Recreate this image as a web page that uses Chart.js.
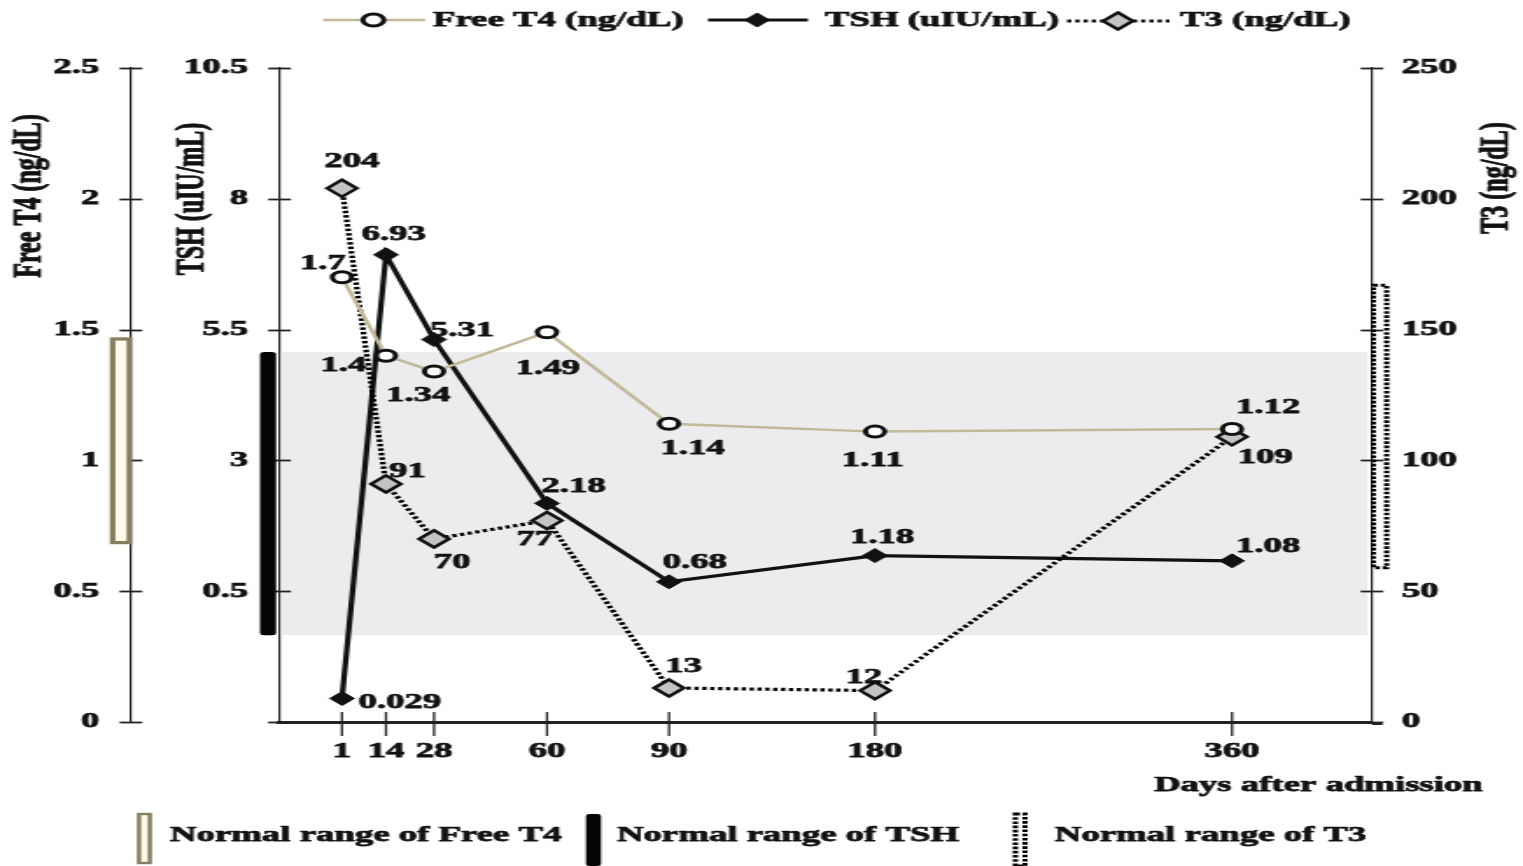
<!DOCTYPE html>
<html><head><meta charset="utf-8">
<script src="https://cdn.jsdelivr.net/npm/chart.js@4.4.1/dist/chart.umd.min.js"></script>
<style>
html,body{margin:0;padding:0;background:#fff;overflow:hidden;}
#wrap{position:absolute;left:0;top:0;width:870px;height:866px;transform:scaleX(1.7506);transform-origin:0 0;}
canvas{display:block;}
</style></head><body>
<div id="wrap"><canvas id="c" width="870" height="866"></canvas></div>
<script>
// ---------- data ----------
const days = [1, 14, 28, 60, 90, 180, 360];
const freeT4 = [1.7, 1.4, 1.34, 1.49, 1.14, 1.11, 1.12];
const tshValues = [0.029, 6.93, 5.31, 2.18, 0.68, 1.18, 1.08];
// where each TSH point sits on the TSH axis in the source (first point is drawn near the axis floor)
const tshPlotted = [-1.55, 6.93, 5.31, 2.18, 0.68, 1.18, 1.08];
const t3 = [204, 91, 70, 77, 13, 12, 109];
const dayTicks = [1, 14, 28, 60, 90, 180, 360];
const ft4Ticks = [0, 0.5, 1, 1.5, 2, 2.5];
const tshTicks = [-2, 0.5, 3, 5.5, 8, 10.5];
const t3Ticks = [0, 50, 100, 150, 200, 250];
const ft4Normal = [0.68, 1.47];
const tshNormal = [-0.34, 5.07];
const t3Normal = [59, 167];

// ---------- layout / style ----------
const FONT = "'Liberation Serif','Times New Roman',serif";
const INK = '#111111';
const TAN = '#c2b99a';
const STROKE_W = 0.75;
const DAY_FRACS = [0.0571, 0.0974, 0.1414, 0.2448, 0.3565, 0.5451, 0.8719];
const AXIS_W = { ft4: 74.8, tsh: 84.9, t3: 86.3 };
const labelOffsets = {
  ft4: [[-10.9,-14],[-24.3,10],[-9.1,24],[0.3,36],[13.4,25],[-1.4,29],[20.6,-21]],
  tsh: [[33.1,4],[4.3,-20],[16,-9],[15.2,-17],[14.6,-19],[4,-18],[20.6,-14]],
  t3:  [[5.7,-27],[12.3,-12],[10.3,24],[-6.9,19],[8.3,-21],[-6.3,-13],[19,21]]
};

// piecewise day axis (the source spaces the days unevenly)
class DayScale extends Chart.LinearScale {
  static id = 'dayScale';
  static defaults = {};
  buildTicks() {
    this.start = this.min; this.end = this.max;
    return dayTicks.map(v => ({ value: v }));
  }
  _frac(v) {
    const d = dayTicks, f = DAY_FRACS;
    let i = 0;
    while (i < d.length - 2 && v > d[i + 1]) i++;
    return f[i] + (v - d[i]) * (f[i + 1] - f[i]) / (d[i + 1] - d[i]);
  }
  getPixelForValue(v) { return this.left + this._frac(v) * this.width; }
  getValueForPixel(p) {
    const fr = (p - this.left) / this.width, d = dayTicks, f = DAY_FRACS;
    let i = 0;
    while (i < f.length - 2 && fr > f[i + 1]) i++;
    return d[i] + (fr - f[i]) * (d[i + 1] - d[i]) / (f[i + 1] - f[i]);
  }
}
Chart.register(DayScale);

function txt(ctx, s, x, y, size, align, rot) {
  ctx.save();
  ctx.translate(x, y);
  if (rot) ctx.rotate(rot);
  ctx.font = 'bold ' + size + 'px ' + FONT;
  ctx.fillStyle = INK;
  ctx.strokeStyle = INK;
  ctx.lineWidth = STROKE_W;
  ctx.lineJoin = 'round';
  ctx.textAlign = align || 'center';
  ctx.textBaseline = 'middle';
  ctx.strokeText(s, 0, 0);
  ctx.fillText(s, 0, 0);
  ctx.restore();
}
function diamond(ctx, x, y, r, fill, stroke, lw) {
  ctx.beginPath();
  ctx.moveTo(x, y - r); ctx.lineTo(x + r, y); ctx.lineTo(x, y + r); ctx.lineTo(x - r, y);
  ctx.closePath();
  ctx.fillStyle = fill; ctx.fill();
  if (lw) { ctx.lineWidth = lw; ctx.strokeStyle = stroke; ctx.stroke(); }
}
function ring(ctx, x, y, r, lw) {
  ctx.beginPath(); ctx.arc(x, y, r, 0, Math.PI * 2);
  ctx.fillStyle = '#fff'; ctx.fill();
  ctx.lineWidth = lw; ctx.strokeStyle = INK; ctx.stroke();
}
function dottedRect(ctx, x, y, w, h) {
  ctx.save();
  ctx.setLineDash([2.6, 1.6]);
  ctx.lineWidth = 3;
  ctx.strokeStyle = '#000';
  ctx.strokeRect(x, y, w, h);
  ctx.restore();
}

const decor = {
  id: 'decor',
  beforeDatasetsDraw(chart) {
    const { ctx, chartArea: a, scales: s } = chart;
    ctx.save();
    // TSH normal band
    const bt = s.yTSH.getPixelForValue(tshNormal[1]);
    const bb = s.yTSH.getPixelForValue(tshNormal[0]);
    ctx.fillStyle = '#ececee';
    ctx.fillRect(a.left + 1, bt, a.right - a.left - 3.5, bb - bt);

    // cross tick marks on the axes
    ctx.strokeStyle = '#222';
    ctx.lineWidth = 1.8;
    const yAxes = [[s.yFT4, s.yFT4.right], [s.yTSH, s.yTSH.right], [s.yT3, s.yT3.left]];
    yAxes.forEach(([sc, ax]) => {
      sc.ticks.forEach(t => {
        const y = Math.round(sc.getPixelForValue(t.value)) + 0.5;
        ctx.beginPath(); ctx.moveTo(ax - 6.5, y); ctx.lineTo(ax + 6.5, y); ctx.stroke();
      });
    });
    ctx.lineWidth = 1.3;
    s.x.ticks.forEach(t => {
      const x = s.x.getPixelForValue(t.value);
      ctx.beginPath(); ctx.moveTo(x, a.bottom - 10); ctx.lineTo(x, a.bottom + 14); ctx.stroke();
    });
    // axis line runs a little past the right axis
    ctx.lineWidth = 3;
    ctx.beginPath(); ctx.moveTo(a.right, a.bottom + 1.5); ctx.lineTo(a.right + 6, a.bottom + 1.5); ctx.stroke();

    // normal range bars beside the axes
    const fx = s.yFT4.right;
    const ft = s.yFT4.getPixelForValue(ft4Normal[1]), fb = s.yFT4.getPixelForValue(ft4Normal[0]);
    ctx.fillStyle = '#fffbea';
    ctx.fillRect(fx - 11, ft, 10.5, fb - ft);
    ctx.strokeStyle = '#857d60';
    ctx.lineWidth = 3.2;
    ctx.strokeRect(fx - 10.5, ft + 1.5, 9.6, fb - ft - 3);

    const tx = s.yTSH.right;
    ctx.fillStyle = '#050505';
    ctx.beginPath();
    ctx.roundRect(tx - 11.2, bt, 9.2, bb - bt, 2.5);
    ctx.fill();

    const rx = s.yT3.left;
    const r3t = s.yT3.getPixelForValue(t3Normal[1]), r3b = s.yT3.getPixelForValue(t3Normal[0]);
    dottedRect(ctx, rx + 0.8, r3t, 7.6, r3b - r3t);
    ctx.restore();
  },
  afterDatasetsDraw(chart) {
    const { ctx } = chart;
    const sets = [['ft4', freeT4], ['tsh', tshValues], ['t3', t3]];
    sets.forEach(([key, vals], di) => {
      const meta = chart.getDatasetMeta(di);
      meta.data.forEach((el, i) => {
        const o = labelOffsets[key][i];
        txt(ctx, String(vals[i]), el.x + o[0], el.y + o[1], 21, 'center');
      });
    });
  },
  afterDraw(chart) {
    const { ctx } = chart;
    ctx.save();
    // axis titles
    txt(ctx, 'Free T4 (ng/dL)', 17.1, 196, 24, 'center', -Math.PI / 2);
    txt(ctx, 'TSH (uIU/mL)', 110.2, 199, 24, 'center', -Math.PI / 2);
    txt(ctx, 'T3 (ng/dL)', 855.1, 178, 24, 'center', -Math.PI / 2);
    txt(ctx, 'Days after admission', 847, 786, 21, 'right');

    // top legend
    const ly = 20;
    ctx.lineWidth = 2.5; ctx.strokeStyle = TAN;
    ctx.beginPath(); ctx.moveTo(184.5, ly); ctx.lineTo(242.8, ly); ctx.stroke();
    ring(ctx, 213.3, ly, 6, 3);
    txt(ctx, 'Free T4 (ng/dL)', 247.3, ly + 1, 21, 'left');

    ctx.lineWidth = 3; ctx.strokeStyle = INK;
    ctx.beginPath(); ctx.moveTo(404.4, ly); ctx.lineTo(461.5, ly); ctx.stroke();
    diamond(ctx, 432.5, ly, 7, INK, INK, 1);
    txt(ctx, 'TSH (uIU/mL)', 471.3, ly + 1, 21, 'left');

    ctx.save();
    ctx.setLineDash([2.5, 2.2]); ctx.lineWidth = 3; ctx.strokeStyle = INK;
    ctx.beginPath(); ctx.moveTo(609.5, ly + 1); ctx.lineTo(668, ly + 1); ctx.stroke();
    ctx.restore();
    diamond(ctx, 638.6, ly + 1, 8.5, '#c4c4c4', INK, 2.5);
    txt(ctx, 'T3 (ng/dL)', 674, ly + 1, 21, 'left');

    // bottom legend
    const by = 836;
    ctx.fillStyle = '#fffbea';
    ctx.fillRect(78.3, 813, 8, 51);
    ctx.strokeStyle = '#857d60'; ctx.lineWidth = 2.4;
    ctx.strokeRect(79.4, 814, 6.2, 49);
    txt(ctx, 'Normal range of Free T4', 97.1, by, 21, 'left');

    ctx.fillStyle = '#050505';
    ctx.beginPath(); ctx.roundRect(334.7, 814, 8.6, 52, 2); ctx.fill();
    txt(ctx, 'Normal range of TSH', 352.4, by, 21, 'left');

    dottedRect(ctx, 580, 814, 5.5, 52);
    txt(ctx, 'Normal range of T3', 602.6, by, 21, 'left');
    ctx.restore();
  }
};

const tickFont = { family: FONT, size: 21, weight: 'bold' };
const tickBase = { font: tickFont, color: INK, textStrokeColor: INK, textStrokeWidth: STROKE_W };
const pts = arr => days.map((d, i) => ({ x: d, y: arr[i] }));

new Chart(document.getElementById('c'), {
  type: 'line',
  data: {
    datasets: [
      {
        label: 'Free T4 (ng/dL)', data: pts(freeT4), xAxisID: 'x', yAxisID: 'yFT4',
        borderColor: TAN, borderWidth: 2.5, tension: 0, order: 0,
        pointStyle: 'circle', pointRadius: 5.5, pointBorderWidth: 3,
        pointBackgroundColor: '#ffffff', pointBorderColor: INK
      },
      {
        label: 'TSH (uIU/mL)', data: pts(tshPlotted), xAxisID: 'x', yAxisID: 'yTSH',
        borderColor: INK, borderWidth: 3.2, tension: 0, order: 2,
        pointStyle: 'rectRot', pointRadius: 7, pointBorderWidth: 1,
        pointBackgroundColor: INK, pointBorderColor: INK
      },
      {
        label: 'T3 (ng/dL)', data: pts(t3), xAxisID: 'x', yAxisID: 'yT3',
        borderColor: '#000', borderWidth: 3.2, borderDash: [2.5, 2], tension: 0, order: 1,
        pointStyle: 'rectRot', pointRadius: 8.5, pointBorderWidth: 2.5,
        pointBackgroundColor: '#c4c4c4', pointBorderColor: INK
      }
    ]
  },
  options: {
    responsive: false,
    animation: false,
    devicePixelRatio: 1,
    layout: { padding: { top: 68, left: 0, right: 0, bottom: 0 }, autoPadding: false },
    plugins: { legend: { display: false }, tooltip: { enabled: false } },
    scales: {
      x: {
        type: 'dayScale', position: 'bottom', min: 0, max: 400,
        afterFit: sc => { sc.height = 144; },
        grid: { display: false, drawTicks: false },
        border: { display: true, color: '#222', width: 3 },
        ticks: Object.assign({ autoSkip: false, maxRotation: 0, minRotation: 0, padding: 17,
                 callback: v => String(v) }, tickBase)
      },
      yFT4: {
        type: 'linear', position: 'left', weight: 2, min: 0, max: 2.5,
        afterBuildTicks: sc => { sc.ticks = ft4Ticks.map(v => ({ value: v })); },
        afterFit: sc => { sc.width = AXIS_W.ft4; },
        grid: { display: false, drawTicks: false },
        border: { display: true, color: '#222', width: 1.2 },
        ticks: Object.assign({ padding: 18, callback: v => String(v) }, tickBase)
      },
      yTSH: {
        type: 'linear', position: 'left', weight: 1, min: -2, max: 10.5,
        afterBuildTicks: sc => { sc.ticks = tshTicks.map(v => ({ value: v })); },
        afterFit: sc => { sc.width = AXIS_W.tsh; },
        grid: { display: false, drawTicks: false },
        border: { display: true, color: '#222', width: 1.2 },
        ticks: Object.assign({ padding: 18, callback: v => (v === tshTicks[0] ? '' : String(v)) }, tickBase)
      },
      yT3: {
        type: 'linear', position: 'right', min: 0, max: 250,
        afterBuildTicks: sc => { sc.ticks = t3Ticks.map(v => ({ value: v })); },
        afterFit: sc => { sc.width = AXIS_W.t3; },
        grid: { display: false, drawTicks: false },
        border: { display: true, color: '#222', width: 1.2 },
        ticks: Object.assign({ padding: 17, callback: v => String(v) }, tickBase)
      }
    }
  },
  plugins: [decor]
});
</script>
</body></html>
